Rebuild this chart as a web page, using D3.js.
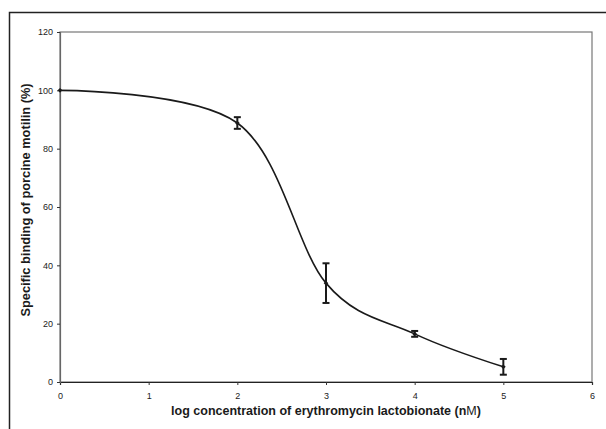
<!DOCTYPE html>
<html>
<head>
<meta charset="utf-8">
<script src="https://cdn.jsdelivr.net/npm/d3@7.9.0/dist/d3.min.js"></script>
<style>
  body { margin: 0; background: #fff; }
  svg { display: block; font-family: "Liberation Sans", Arial, sans-serif; }
</style>
</head>
<body>
<svg id="chart" width="606" height="429"></svg>
<script>
// data
const logConc = [0, 2, 3, 4, 5];
const binding = [100, 88.8, 33.9, 16.5, 5.2];
const errors = [0, 2.0, 6.8, 1.0, 2.7];
const xTicks = [0, 1, 2, 3, 4, 5, 6];
const yTicks = [0, 20, 40, 60, 80, 100, 120];

const svg = d3.select('#chart');
const margin = { left: 60, top: 32, right: 14, bottom: 47 };
const width = 606, height = 429;

const x = d3.scaleLinear().domain([0, 6]).range([margin.left, width - margin.right]);
const y = d3.scaleLinear().domain([0, 120]).range([height - margin.bottom, margin.top]);

// outer frame (only left and top edges show)
svg.append('path')
  .attr('d', `M9.5,${height} V12.5 H${width}`)
  .attr('fill', 'none')
  .attr('stroke', '#222')
  .attr('stroke-width', 1.5);

// plot box
svg.append('rect')
  .attr('x', x(0)).attr('y', y(120))
  .attr('width', x(6) - x(0)).attr('height', y(0) - y(120))
  .attr('fill', 'none')
  .attr('stroke', '#777')
  .attr('stroke-width', 1.2);

// axes
const xAxis = svg.append('g')
  .attr('transform', `translate(0,${y(0)})`)
  .call(d3.axisBottom(x).tickValues(xTicks).tickSize(3).tickPadding(8).tickFormat(d3.format('d')));
const yAxis = svg.append('g')
  .attr('transform', `translate(${x(0)},0)`)
  .call(d3.axisLeft(y).tickValues(yTicks).tickSize(3).tickPadding(4).tickFormat(d3.format('d')));

xAxis.select('.domain').attr('stroke', '#222').attr('stroke-width', 1.2);
yAxis.select('.domain').attr('stroke', '#666').attr('stroke-width', 1.2);
svg.selectAll('.tick line').attr('stroke', '#333');
svg.selectAll('.tick text')
  .attr('font-size', 9)
  .attr('font-family', '"Liberation Sans", Arial, sans-serif')
  .attr('fill', '#222');

// fitted curve (Excel-like smoothed line)
const pts = logConc.map((d, i) => [d, binding[i]]);
const line = d3.line()
  .x(d => x(d[0]))
  .y(d => y(d[1]))
  .curve(d3.curveCardinal.tension(0));

svg.append('path')
  .datum(pts)
  .attr('d', line)
  .attr('fill', 'none')
  .attr('stroke', '#1a1a1a')
  .attr('stroke-width', 1.6);

// error bars
const capW = 3.5;
pts.forEach((p, i) => {
  if (!errors[i]) return;
  const cx = x(p[0]);
  const top = y(p[1] + errors[i]);
  const bot = y(p[1] - errors[i]);
  const g = svg.append('g').attr('stroke', '#1a1a1a').attr('stroke-width', 2);
  g.append('line').attr('x1', cx).attr('x2', cx).attr('y1', top).attr('y2', bot);
  g.append('line').attr('x1', cx - capW).attr('x2', cx + capW).attr('y1', top).attr('y2', top);
  g.append('line').attr('x1', cx - capW).attr('x2', cx + capW).attr('y1', bot).attr('y2', bot);
});

// markers
svg.selectAll('.marker')
  .data(pts)
  .join('path')
  .attr('class', 'marker')
  .attr('transform', d => `translate(${x(d[0])},${y(d[1])})`)
  .attr('d', d3.symbol(d3.symbolDiamond2, 14))
  .attr('fill', '#1a1a1a');

// axis titles
svg.append('text')
  .attr('x', 326)
  .attr('y', 415)
  .attr('text-anchor', 'middle')
  .attr('font-size', 12.5)
  .attr('font-weight', 'bold')
  .attr('fill', '#1a1a1a')
  .text('log concentration of erythromycin lactobionate (n')
  .append('tspan').attr('font-weight', 'normal').text('M')
  .select(function () { return this.parentNode; })
  .append('tspan').text(')');

svg.append('text')
  .attr('transform', 'translate(30,200) rotate(-90)')
  .attr('text-anchor', 'middle')
  .attr('font-size', 12.8)
  .attr('font-weight', 'bold')
  .attr('fill', '#1a1a1a')
  .text('Specific binding of porcine motilin (%)');
</script>
</body>
</html>
